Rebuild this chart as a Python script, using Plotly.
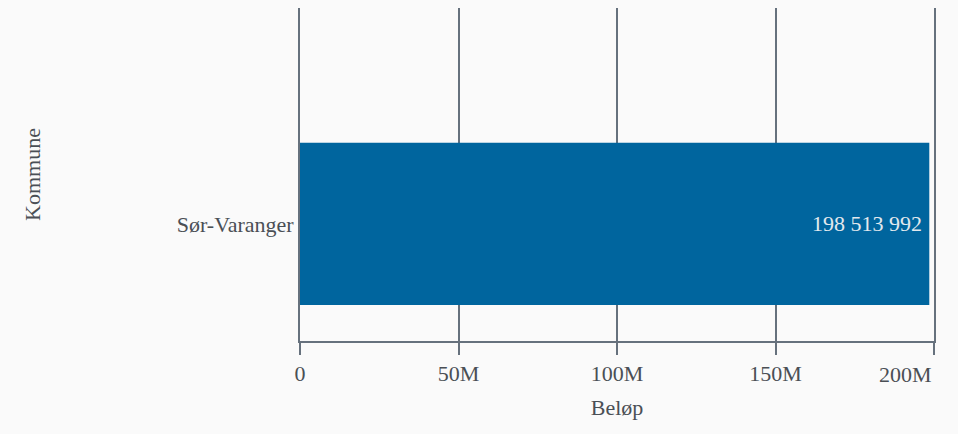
import plotly.graph_objects as go

kommuner = ["Sør-Varanger"]
belop = [198513992]
x_tickvals = [0, 50e6, 100e6, 150e6, 200e6]
x_ticktext = ["0", "50M", "100M", "150M", "200M"]

labels = [f"{v:,}".replace(",", " ") + "\u2009" for v in belop]

font_family = "Liberation Serif, Times New Roman, serif"
text_color = "#4a4f55"
grid_color = "#66717d"
fs = 22

fig = go.Figure(
    go.Bar(
        x=belop,
        y=kommuner,
        orientation="h",
        width=0.5,
        marker=dict(color="#00659e", line=dict(width=0)),
        text=labels,
        textposition="inside",
        insidetextanchor="end",
        textfont=dict(family=font_family, size=fs, color="#e3e9ee"),
        hoverinfo="x+y",
    )
)

# last tick label is kept inside the figure (right-aligned to its tick)
shown_ticktext = x_ticktext[:-1] + [""]

fig.update_layout(
    width=958,
    height=434,
    margin=dict(l=300, r=23.5, t=8, b=93),
    paper_bgcolor="#fafafa",
    plot_bgcolor="#fafafa",
    font=dict(family=font_family, size=fs, color=text_color),
    showlegend=False,
    xaxis=dict(
        range=[0, 200e6],
        tickvals=x_tickvals,
        ticktext=shown_ticktext,
        automargin=False,
        showgrid=True,
        gridcolor=grid_color,
        gridwidth=2,
        zeroline=False,
        showline=True,
        linecolor=grid_color,
        linewidth=2,
        ticks="outside",
        ticklen=12,
        tickwidth=2,
        tickcolor=grid_color,
        tickfont=dict(size=fs, color=text_color),
        title=dict(text="Beløp", font=dict(size=fs, color=text_color), standoff=14),
    ),
    yaxis=dict(
        range=[-0.361, 0.665],
        showgrid=False,
        zeroline=False,
        showline=True,
        mirror=True,
        linecolor=grid_color,
        linewidth=2,
        ticks="",
        ticklabelstandoff=0,
        tickfont=dict(size=fs, color=text_color),
        title=dict(text="Kommune", font=dict(size=fs, color=text_color), standoff=130),
    ),
    annotations=[
        dict(
            x=x_tickvals[-1],
            xref="x",
            y=-0.1,
            yref="paper",
            yanchor="middle",
            xanchor="right",
            text=x_ticktext[-1],
            showarrow=False,
            font=dict(family=font_family, size=fs, color=text_color),
        )
    ],
)

fig.write_html("out.html")
